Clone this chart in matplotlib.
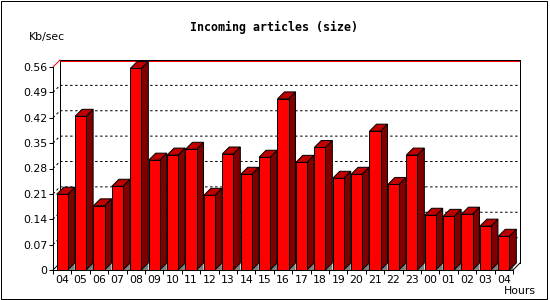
import numpy as np
from matplotlib import pyplot as plt
from matplotlib.patches import Polygon, Rectangle

## data
hours = ['04','05','06','07','08','09','10','11','12','13','14','15','16',
         '17','18','19','20','21','22','23','00','01','02','03','04']
kbsec = [0.209,0.424,0.177,0.231,0.556,0.303,0.317,0.333,0.206,0.320,0.264,0.311,0.472,
         0.297,0.338,0.253,0.264,0.383,0.236,0.317,0.151,0.148,0.154,0.121,0.093]
yticks = [0,0.07,0.14,0.21,0.28,0.35,0.42,0.49,0.56]
ylabels = ['0','0.07','0.14','0.21','0.28','0.35','0.42','0.49','0.56']

W,H = 550,300
px = 0.72  ## one pixel in points at dpi 100
fs = 7.8
fig = plt.figure(figsize=(5.5,3),dpi=100)
fig.patch.set_facecolor('white')

## front plane of the 3d box
x0,x1,y0,y1 = 53,513,270,67
ax = fig.add_axes([x0/W,(H-y0)/H,(x1-x0)/W,(y0-y1)/H])
ax.set_xlim(0,len(hours))
ax.set_ylim(0,0.56)
ax.patch.set_alpha(0)

## depth of the 3d effect in data units
dx = 7/((x1-x0)/len(hours))
dy = 7/(y0-y1)*0.56
n = len(hours)

## back plane grid lines (dotted), the max line in red
for v in yticks[1:-1]:
    ax.plot([0,dx,n+dx],[v,v+dy,v+dy],color='k',lw=px,ls=(0,(2.5,2.5)),clip_on=False,zorder=1)
ax.plot([dx,n+dx],[0.56+dy,0.56+dy],color='k',lw=px,clip_on=False,zorder=1)
ax.plot([dx,n+dx],[0.56+dy-0.0028,0.56+dy-0.0028],color='red',lw=px,clip_on=False,zorder=1)
ax.plot([0,dx],[0.56,0.56+dy],color='red',lw=px,clip_on=False,zorder=2)
ax.plot([dx,dx],[dy,0.56+dy],color='k',lw=px,clip_on=False,zorder=1)
ax.plot([n+dx,n+dx],[dy,0.56+dy],color='k',lw=px,clip_on=False,zorder=1)
ax.plot([n,n+dx],[0,dy],color='k',lw=px,clip_on=False,zorder=1)
ax.plot([0,dx],[0,dy],color='k',lw=px,clip_on=False,zorder=1)

## bars: front faces through ax.bar, sides and caps as polygons
off,bw = 0.2,0.6
xs = np.arange(n)+off
ax.bar(xs,kbsec,width=bw,align='edge',color='#ff0000',edgecolor='k',lw=px,zorder=4)
for i,v in enumerate(kbsec):
    xl,xr = xs[i],xs[i]+bw
    ax.add_patch(Polygon([(xr,0),(xr+dx,dy),(xr+dx,0)],closed=True,fc='#808080',ec='none',zorder=3))
    ax.add_patch(Polygon([(xr,0),(xr,v),(xr+dx,v+dy),(xr+dx,dy)],closed=True,
                         fc='#800000',ec='k',lw=px,zorder=3,clip_on=False))
    ax.add_patch(Polygon([(xl,v),(xl+dx,v+dy),(xr+dx,v+dy),(xr,v)],closed=True,
                         fc='#c00000',ec='k',lw=px,zorder=3,clip_on=False))

## axes and ticks
for s in ['top','right']:
    ax.spines[s].set_visible(False)
for s in ['left','bottom']:
    ax.spines[s].set_linewidth(px)
    ax.spines[s].set_zorder(5)
ax.set_yticks(yticks)
ax.set_yticklabels(ylabels,fontsize=fs,family='DejaVu Sans')
ax.tick_params(axis='y',length=3,width=px,pad=1)
ax.get_yticklines()[-2].set_color('red')
ax.set_xticks(np.arange(n+1))
ax.set_xticklabels([])
ax.tick_params(axis='x',which='major',length=3,width=px)
ax.set_xticks(np.arange(n)+0.5,minor=True)
ax.set_xticklabels(hours,minor=True,fontsize=fs,family='DejaVu Sans')
ax.tick_params(axis='x',which='minor',length=0,pad=3.5)

## texts
fig.text(273.5/W,1-27/H,'Incoming articles (size)',ha='center',va='center',
         fontsize=8.4,family='DejaVu Sans Mono',fontweight='bold')
fig.text(29/W,1-37/H,'Kb/sec',ha='left',va='center',fontsize=fs)
fig.text(504/W,1-291/H,'Hours',ha='left',va='center',fontsize=fs)

## outer frame
fig.patches.append(Rectangle((0.5/W,1.5/H),546.5/W,298/H,transform=fig.transFigure,
                             fill=False,ec='k',lw=px))

plt.savefig('out.png',dpi=100)
